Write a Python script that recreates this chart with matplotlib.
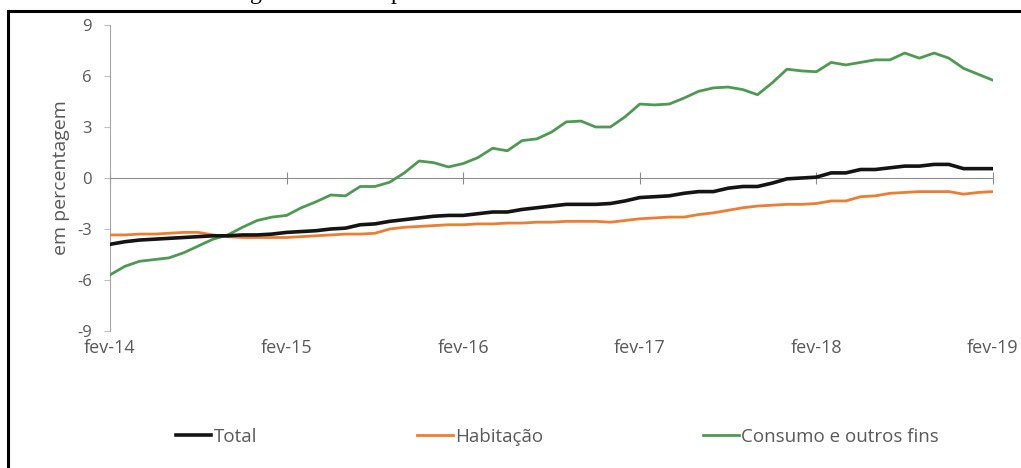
import numpy as np
import pandas as pd
import matplotlib
matplotlib.use('Agg')
from matplotlib import pyplot as plt
from matplotlib.lines import Line2D
import matplotlib.transforms as mtransforms

# meses fev-14 .. fev-19
datas = pd.date_range('2014-02-01', '2019-02-01', freq='MS')

total = [-3.9, -3.75, -3.65, -3.6, -3.55, -3.5, -3.45, -3.4, -3.4, -3.35,
         -3.35, -3.3, -3.2, -3.15, -3.1, -3.0, -2.95, -2.75, -2.7, -2.55,
         -2.45, -2.35, -2.25, -2.2, -2.2, -2.1, -2.0, -2.0, -1.85, -1.75,
         -1.65, -1.55, -1.55, -1.55, -1.5, -1.35, -1.15, -1.1, -1.05, -0.9,
         -0.8, -0.8, -0.6, -0.5, -0.5, -0.3, -0.05, 0.0, 0.05, 0.3,
         0.3, 0.5, 0.5, 0.6, 0.7, 0.7, 0.8, 0.8, 0.55, 0.55, 0.55]
habitacao = [-3.35, -3.35, -3.3, -3.3, -3.25, -3.2, -3.2, -3.35, -3.45, -3.5,
             -3.5, -3.5, -3.5, -3.45, -3.4, -3.35, -3.3, -3.3, -3.25, -3.0,
             -2.9, -2.85, -2.8, -2.75, -2.75, -2.7, -2.7, -2.65, -2.65, -2.6,
             -2.6, -2.55, -2.55, -2.55, -2.6, -2.5, -2.4, -2.35, -2.3, -2.3,
             -2.15, -2.05, -1.9, -1.75, -1.65, -1.6, -1.55, -1.55, -1.5, -1.35,
             -1.35, -1.1, -1.05, -0.9, -0.85, -0.8, -0.8, -0.8, -0.95, -0.85, -0.8]
consumo = [-5.7, -5.2, -4.9, -4.8, -4.7, -4.4, -4.0, -3.6, -3.35, -2.9,
           -2.5, -2.3, -2.2, -1.75, -1.4, -1.0, -1.05, -0.5, -0.5, -0.25,
           0.3, 1.0, 0.9, 0.65, 0.85, 1.2, 1.75, 1.6, 2.2, 2.3,
           2.7, 3.3, 3.35, 3.0, 3.0, 3.6, 4.35, 4.3, 4.35, 4.7,
           5.1, 5.3, 5.35, 5.2, 4.9, 5.6, 6.4, 6.3, 6.25, 6.8,
           6.65, 6.8, 6.95, 6.95, 7.35, 7.05, 7.35, 7.05, 6.45, 6.1, 5.75]

yticks = [-9, -6, -3, 0, 3, 6, 9]
xlabels = ['fev-14', 'fev-15', 'fev-16', 'fev-17', 'fev-18', 'fev-19']

cinza = '#595959'
cores = {'Total': '#141414', 'Habitação': '#ee7d31', 'Consumo e outros fins': '#4d9a52'}

plt.rcParams['font.family'] = ['Open Sans', 'DejaVu Sans']

fig = plt.figure(figsize=(10.21, 4.68), dpi=100)
ax = fig.add_axes([110 / 1021, 1 - 331 / 468, (993 - 110) / 1021, (331 - 25) / 468])

x = np.arange(len(datas))
ax.plot(x, habitacao, color=cores['Habitação'], lw=2.0, zorder=3)
ax.plot(x, consumo, color=cores['Consumo e outros fins'], lw=2.0, zorder=3)
ax.plot(x, total, color=cores['Total'], lw=2.6, zorder=4)

ax.set_xlim(0, len(datas) - 1)
ax.set_ylim(-9, 9)
ax.set_yticks(yticks)
ax.set_yticklabels([str(v) for v in yticks])

# eixo x passa no zero, rótulos em baixo
anos = x[::12]
ax.spines['bottom'].set_position(('data', 0))
ax.spines['bottom'].set_color('#8c8c8c')
ax.spines['left'].set_color('#a6a6a6')
ax.spines['top'].set_visible(False)
ax.spines['right'].set_visible(False)
ax.set_xticks(anos)
ax.tick_params(axis='x', direction='inout', length=8, color='#8c8c8c', labelbottom=False)
ax.tick_params(axis='y', direction='out', length=4, color='#bfbfbf', labelcolor=cinza, labelsize=12, pad=9)

trans = mtransforms.blended_transform_factory(ax.transData, ax.transAxes)
for xi, lab in zip(anos, xlabels):
    ax.text(xi, -0.025, lab, transform=trans, ha='center', va='top', fontsize=13, color=cinza)

ax.set_ylabel('em percentagem', color=cinza, fontsize=14, labelpad=5)

handles = [Line2D([], [], color=c, lw=2.6 if k == 'Total' else 2.0) for k, c in cores.items()]
fig.legend(handles, list(cores.keys()), loc='center', bbox_to_anchor=(0.546, 1 - 437 / 468),
           ncol=3, frameon=False, fontsize=13.5, handlelength=1.9, handletextpad=0.15,
           columnspacing=8.5, labelcolor=cinza)

# moldura (só esquerda e topo visíveis)
fig.add_artist(Line2D([8 / 1021, 8 / 1021], [0, 1 - 11 / 468], color='black', lw=2.2,
                      transform=fig.transFigure))
fig.add_artist(Line2D([8 / 1021, 1], [1 - 11 / 468, 1 - 11 / 468], color='black', lw=2.2,
                      transform=fig.transFigure))

# restos do título cortado no topo
fig.text(250 / 1021, 1 + 0.5 / 468, 'g', family='Liberation Serif', fontsize=17, va='baseline')
fig.text(391 / 1021, 1 + 0.5 / 468, 'p', family='Liberation Serif', fontsize=17, va='baseline')

fig.savefig('out.png', dpi=100)
